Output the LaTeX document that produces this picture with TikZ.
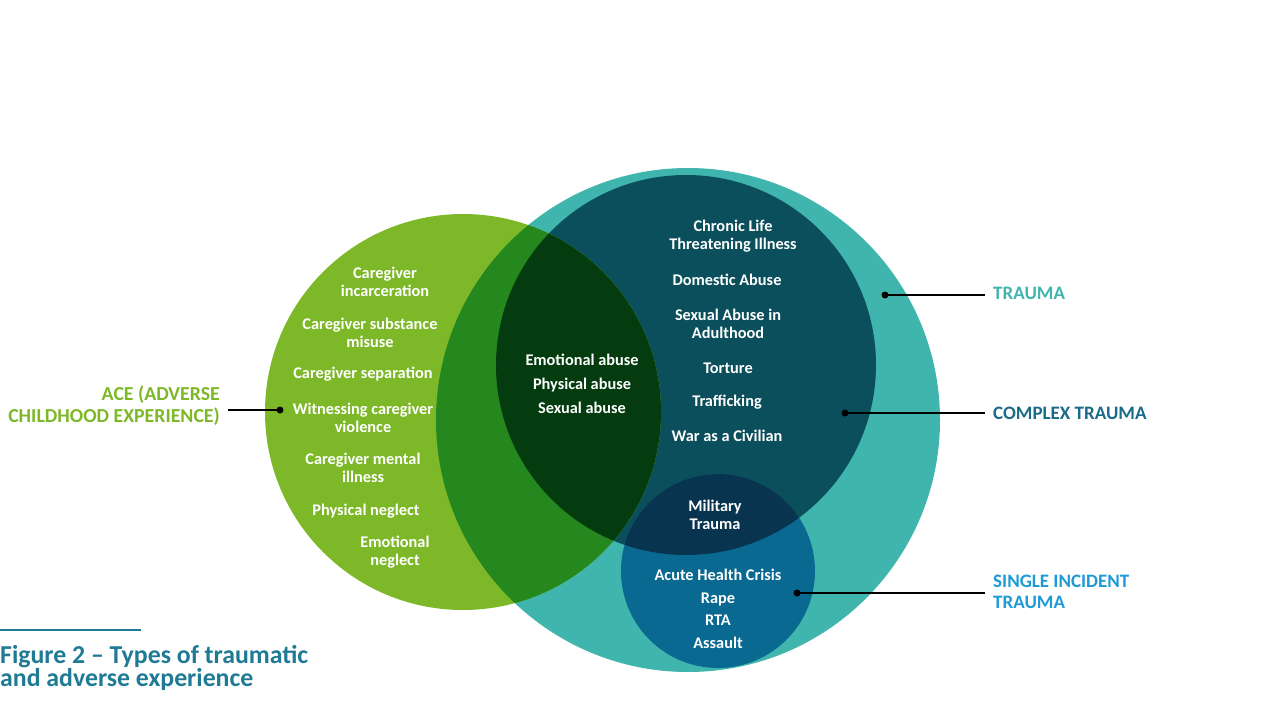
\documentclass[tikz,border=0pt]{standalone}
\usepackage{fontspec}
\setmainfont{Carlito}
\definecolor{acegreen}{HTML}{7DB828}
\definecolor{traumateal}{HTML}{40B5AE}
\definecolor{complexdark}{HTML}{0B4F5C}
\definecolor{singleblue}{HTML}{0A6990}
\definecolor{navyover}{HTML}{09344F}
\definecolor{greenteal}{HTML}{25881E}
\definecolor{greendark}{HTML}{043C0F}
\definecolor{complexlbl}{HTML}{1A6A8A}
\definecolor{singlelbl}{HTML}{1E9AD6}
\definecolor{capcol}{HTML}{1F7A95}
\begin{document}
\begin{tikzpicture}[x=1pt,y=-1pt,
  intext/.style={text=white,font=\bfseries\fontsize{16.3}{18.5}\selectfont,align=center,inner sep=0pt},
  lbl/.style={font=\bfseries\fontsize{19}{21}\selectfont,inner sep=0pt,align=left,anchor=west},
  leader/.style={draw=black,line width=1.2pt},
  dotst/.style={fill=black,circle,inner sep=0pt,minimum size=7pt}]
\useasboundingbox (0,0) rectangle (1280,720);
% circles
\fill[traumateal] (688,420) circle[radius=252pt];
\fill[complexdark] (686,365) circle[radius=190pt];
\fill[singleblue] (718,571) circle[radius=97pt];
\begin{scope}
  \clip (686,365) circle[radius=190pt];
  \fill[navyover] (718,571) circle[radius=97pt];
\end{scope}
\fill[acegreen] (463,412) circle[radius=198pt];
\begin{scope}
  \clip (463,412) circle[radius=198pt];
  \fill[greenteal] (688,420) circle[radius=252pt];
  \fill[greendark] (686,365) circle[radius=190pt];
\end{scope}
% ACE texts
\node[intext] (a1) at (385,282) {Caregiver\\incarceration};
\node[intext] (a2) at (370,333) {Caregiver substance\\misuse};
\node[intext] (a3) at (363,374) {Caregiver separation};
\node[intext] (a4) at (363,418) {Witnessing caregiver\\violence};
\node[intext] (a5) at (363,468) {Caregiver mental\\illness};
\node[intext] (a6) at (366,511) {Physical neglect};
\node[intext] (a7) at (395,552) {Emotional\\neglect};
% overlap
\node[intext,font=\bfseries\fontsize{16.3}{24}\selectfont] (o1) at (582,384) {Emotional abuse\\Physical abuse\\Sexual abuse};
% complex
\node[intext] (c1) at (733,236) {Chronic Life\\Threatening Illness};
\node[intext] (c2) at (727,280) {Domestic Abuse};
\node[intext] (c3) at (728,324) {Sexual Abuse in\\Adulthood};
\node[intext] (c4) at (728,368) {Torture};
\node[intext] (c5) at (727,402) {Trafficking};
\node[intext] (c6) at (727,436) {War as a Civilian};
\node[intext] (m1) at (715,515) {Military\\Trauma};
% single
\node[intext,font=\bfseries\fontsize{16.3}{22.5}\selectfont] (s1) at (718,609) {Acute Health Crisis\\Rape\\RTA\\Assault};
% labels
\node[lbl,align=right,anchor=east,text=acegreen,font=\bfseries\fontsize{19.8}{22}\selectfont] (acel) at (220,406) {ACE (ADVERSE\\CHILDHOOD EXPERIENCE)};
\node[lbl,text=traumateal] (tl) at (993,293) {TRAUMA};
\node[lbl,text=complexlbl] (cl) at (993,413) {COMPLEX TRAUMA};
\node[lbl,text=singlelbl] (sl) at (993,592) {SINGLE INCIDENT\\TRAUMA};
% dots and leaders
\node[dotst] (acedot) at (280,410) {};
\node[dotst] (tdot) at (885,295) {};
\node[dotst] (cdot) at (845,413) {};
\node[dotst] (sdot) at (797,593) {};
\coordinate (acee) at (228,410);
\coordinate (te) at (985,295);
\coordinate (ce) at (985,413);
\coordinate (se) at (985,593);
\draw[leader] (acee) -- (acedot.center);
\draw[leader] (tdot.center) -- (te);
\draw[leader] (cdot.center) -- (ce);
\draw[leader] (sdot.center) -- (se);
% caption
\coordinate (capa) at (0,630);
\coordinate (capb) at (141,630);
\draw[capcol,line width=1.5pt] (capa) -- (capb);
\node[anchor=north west,inner sep=0pt,text=capcol,align=left,font=\bfseries\fontsize{25.8}{22}\selectfont] (cap) at (0,645) {Figure 2 – Types of traumatic\\and adverse experience};
\end{tikzpicture}
\end{document}
